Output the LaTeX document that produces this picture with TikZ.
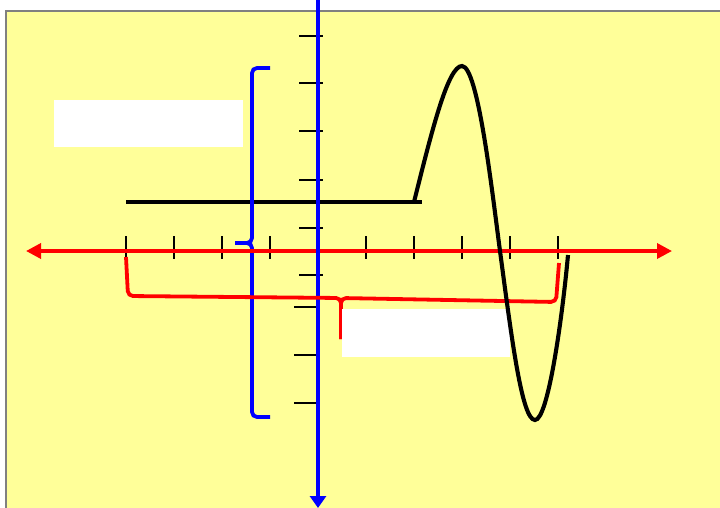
\documentclass[tikz,border=0pt]{standalone}
\usetikzlibrary{arrows.meta}
\definecolor{paper}{HTML}{FFFF99}

\begin{document}
\begin{tikzpicture}[x=1pt,y=-1pt,
  axis/.style={line width=3.5pt},
  tick/.style={line width=1.9pt},
  curve/.style={line width=4.1pt,black},
  brace/.style={line width=3.8pt,rounded corners=5pt},
  blank/.style={fill=white,inner sep=0pt}]
  \useasboundingbox (0,0) rectangle (720,508);
  \fill[paper,draw=gray,line width=1.5pt] (6,11) rectangle (724,512);
  % ticks
  \foreach \x in {126,174,222,270,366,414,462,510,558}
    \draw[tick] (\x,236) -- (\x,259);
  \foreach \y in {36,83,131,180,228,275}
    \draw[tick] (299,\y) -- (323,\y);
  \foreach \y in {307,355,403}
    \draw[tick] (294,\y) -- (318,\y);
  % level line
  \draw[curve] (126,202) -- (422,202);
  % blue brace
  \draw[blue,brace] (270,68) -- (252,68) -- (252,243) -- (235,243);
  \draw[blue,brace] (270,417) -- (252,417) -- (252,243) -- (235,243);
  % axes
  \draw[red,axis,{Triangle[length=15pt,width=15pt]}-{Triangle[length=15pt,width=15pt]}] (26,251) -- (672,251);
  \draw[blue,axis,-{Triangle[length=12pt,width=16pt]}] (318,0) -- (318,508);
  % red brace
  \draw[red,brace] (126,257) -- (128,296) -- (341,298) -- (341,339);
  \draw[red,brace] (559,263) -- (556,302) -- (341,298) -- (341,339);
  % label boxes
  \node[blank,minimum width=189pt,minimum height=47pt] (leftbox) at (148.5,123.5) {};
  \node[blank,minimum width=168pt,minimum height=48pt] (rightbox) at (426,333) {};
  % wave
  \draw[curve] (414,202) .. controls (432,130) and (448,66) .. (462,66)
    .. controls (478,66) and (492,191) .. (500,251)
    .. controls (512,341) and (522,420) .. (535,420)
    .. controls (548,420) and (562,320) .. (568,255);
\end{tikzpicture}
\end{document}
